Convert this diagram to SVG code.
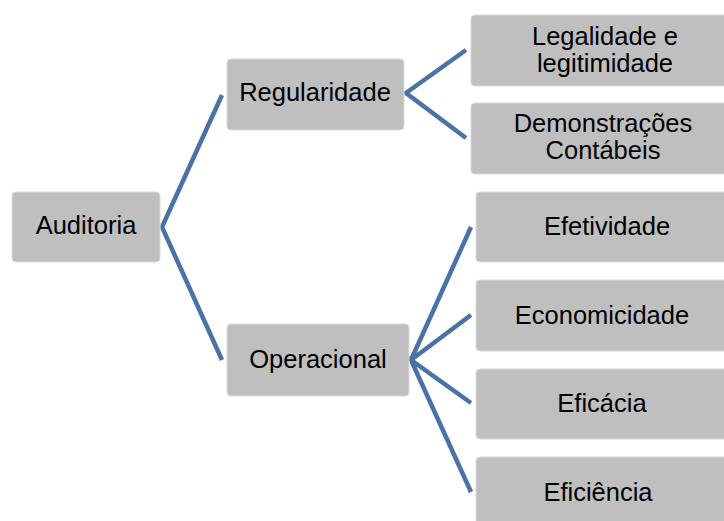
<svg xmlns="http://www.w3.org/2000/svg" width="724" height="521" viewBox="0 0 724 521">
<style>
.box{fill:#bfbfbf;stroke:#d9d9d9;stroke-width:1}
.t{font-family:"Liberation Sans",Arial,sans-serif;font-size:25.5px;fill:#000;text-anchor:middle}
.c{fill:none;stroke:#4a72a6;stroke-width:4.5;stroke-linejoin:miter}
</style>
<rect width="724" height="521" fill="#fff"/>
<g id="connectors">
<polyline class="c" points="222,95 162,227 222,360"/>
<polyline class="c" points="466,50 406,93 466,138"/>
<polyline class="c" points="471,227 411,360 471,315"/>
<polyline class="c" points="471,403 411,360 471,492"/>
</g>
<g id="auditoria"><rect class="box" x="12" y="192" width="148" height="70" rx="4"/><text class="t" x="86" y="234">Auditoria</text></g>
<g id="regularidade"><rect class="box" x="227" y="59" width="177" height="71" rx="4"/><text class="t" x="315" y="101">Regularidade</text></g>
<g id="operacional"><rect class="box" x="227" y="324" width="182" height="72" rx="4"/><text class="t" x="318" y="368">Operacional</text></g>
<g id="legalidade"><rect class="box" x="471" y="15" width="260" height="71" rx="4"/><text class="t" x="605" y="45">Legalidade e</text><text class="t" x="605" y="72">legitimidade</text></g>
<g id="demonstracoes"><rect class="box" x="471" y="103" width="260" height="71" rx="4"/><text class="t" x="603" y="132">Demonstrações</text><text class="t" x="603" y="159">Contábeis</text></g>
<g id="efetividade"><rect class="box" x="476" y="192" width="260" height="70" rx="4"/><text class="t" x="607" y="235">Efetividade</text></g>
<g id="economicidade"><rect class="box" x="476" y="280" width="260" height="71" rx="4"/><text class="t" x="602" y="324">Economicidade</text></g>
<g id="eficacia"><rect class="box" x="476" y="369" width="260" height="70" rx="4"/><text class="t" x="602" y="412">Eficácia</text></g>
<g id="eficiencia"><rect class="box" x="476" y="457" width="260" height="70" rx="4"/><text class="t" x="598" y="501">Eficiência</text></g>
</svg>
